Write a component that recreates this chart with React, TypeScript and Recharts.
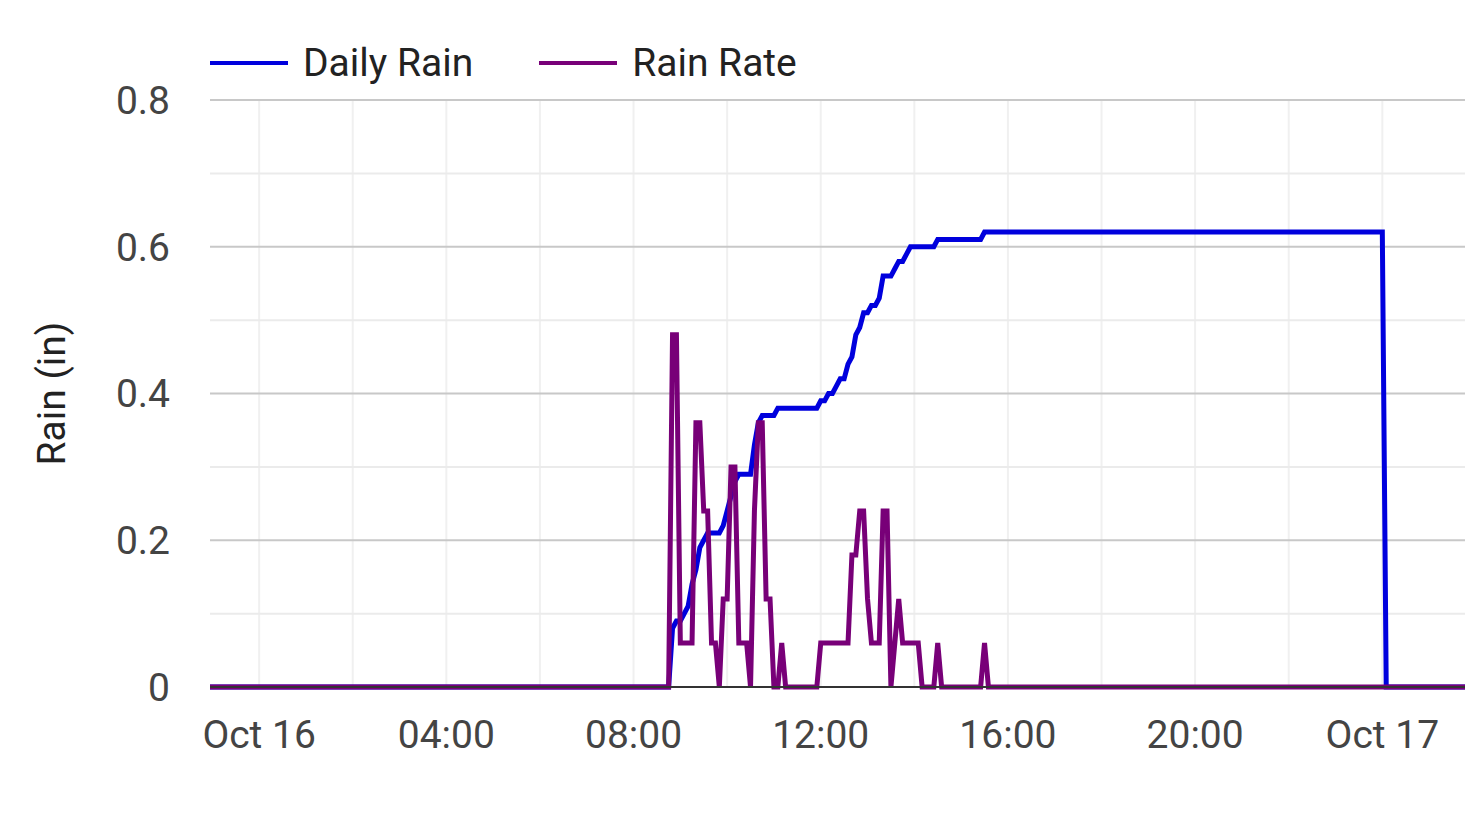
import { LineChart, Line, XAxis, YAxis, ReferenceLine, Label } from 'recharts'

// minutes from Oct 16 00:00
const times = [
  -63,
  520, 525, 530, 535, 540, 545, 550, 555, 560, 565,
  570, 575, 580, 585, 590, 595, 600, 605, 610, 615,
  620, 625, 630, 635, 640, 645, 650, 655, 660, 665,
  670, 675, 680, 685, 690, 695, 700, 705, 710, 715,
  720, 725, 730, 735, 740, 745, 750, 755, 760, 765,
  770, 775, 780, 785, 790, 795, 800, 805, 810, 815,
  820, 825, 830, 835, 840, 845, 850, 855, 860, 865,
  870, 875, 880, 885, 890, 895, 900, 905, 910, 915,
  920, 925, 930, 935, 940, 945,
  1440, 1445, 1546,
]

const dailyRain = [
  0,
  0, 0, 0.08, 0.09, 0.09, 0.1, 0.11, 0.14, 0.16, 0.19,
  0.2, 0.21, 0.21, 0.21, 0.21, 0.22, 0.24, 0.26, 0.28, 0.29,
  0.29, 0.29, 0.29, 0.33, 0.36, 0.37, 0.37, 0.37, 0.37, 0.38,
  0.38, 0.38, 0.38, 0.38, 0.38, 0.38, 0.38, 0.38, 0.38, 0.38,
  0.39, 0.39, 0.4, 0.4, 0.41, 0.42, 0.42, 0.44, 0.45, 0.48,
  0.49, 0.51, 0.51, 0.52, 0.52, 0.53, 0.56, 0.56, 0.56, 0.57,
  0.58, 0.58, 0.59, 0.6, 0.6, 0.6, 0.6, 0.6, 0.6, 0.6,
  0.61, 0.61, 0.61, 0.61, 0.61, 0.61, 0.61, 0.61, 0.61, 0.61,
  0.61, 0.61, 0.62, 0.62, 0.62, 0.62,
  0.62, 0, 0,
]

const rainRate = [
  0,
  0, 0, 0.48, 0.48, 0.06, 0.06, 0.06, 0.06, 0.36, 0.36,
  0.24, 0.24, 0.06, 0.06, 0, 0.12, 0.12, 0.3, 0.3, 0.06,
  0.06, 0.06, 0, 0.24, 0.36, 0.36, 0.12, 0.12, 0, 0,
  0.06, 0, 0, 0, 0, 0, 0, 0, 0, 0,
  0.06, 0.06, 0.06, 0.06, 0.06, 0.06, 0.06, 0.06, 0.18, 0.18,
  0.24, 0.24, 0.12, 0.06, 0.06, 0.06, 0.24, 0.24, 0, 0.06,
  0.12, 0.06, 0.06, 0.06, 0.06, 0.06, 0, 0, 0, 0,
  0.06, 0, 0, 0, 0, 0, 0, 0, 0, 0,
  0, 0, 0.06, 0, 0, 0,
  0, 0, 0,
]

const xTicks = [0, 240, 480, 720, 960, 1200, 1440]
const xTickLabels = ['Oct 16', '04:00', '08:00', '12:00', '16:00', '20:00', 'Oct 17']
const xGrid = [0, 120, 240, 360, 480, 600, 720, 840, 960, 1080, 1200, 1320, 1440]
const yTicks = [0, 0.2, 0.4, 0.6, 0.8]
const yMinor = [0.1, 0.3, 0.5, 0.7]

const series = [
  { key: 'daily', name: 'Daily Rain', color: '#0000dd', values: dailyRain },
  { key: 'rate', name: 'Rain Rate', color: '#780078', values: rainRate },
]

const FONT = 'Roboto, sans-serif'

export default function App() {
  const data = times.map((t, i) => ({ t, daily: dailyRain[i], rate: rainRate[i] }))

  return (
    <div style={{ position: 'absolute', left: 0, top: 0, width: 1465, height: 820, background: '#fff', fontFamily: FONT }}>
      <div style={{ position: 'absolute', left: 210, top: 40, display: 'flex', alignItems: 'center', height: 46 }}>
        {series.map((s, i) => (
          <div key={s.key} style={{ display: 'flex', alignItems: 'center', marginRight: i === 0 ? 66 : 0 }}>
            <div style={{ width: 78, height: 4, background: s.color }} />
            <span style={{ marginLeft: 15, fontSize: 39, color: '#222', lineHeight: '46px' }}>{s.name}</span>
          </div>
        ))}
      </div>
      <LineChart width={1465} height={820} data={data} margin={{ top: 100, right: 0, bottom: 73, left: 0 }}>
        {xGrid.map(v => (
          <ReferenceLine key={'x' + v} x={v} stroke="#f0f0f0" strokeWidth={2} />
        ))}
        {yMinor.map(v => (
          <ReferenceLine key={'ym' + v} y={v} stroke="#ebebeb" strokeWidth={2} />
        ))}
        {yTicks.filter(v => v > 0).map(v => (
          <ReferenceLine key={'y' + v} y={v} stroke="#c8c8c8" strokeWidth={2} />
        ))}
        <XAxis
          type="number"
          dataKey="t"
          domain={[-63, 1546]}
          ticks={xTicks}
          tickFormatter={(v: number) => xTickLabels[xTicks.indexOf(v)] ?? ''}
          tick={{ fontSize: 39, fill: '#444', fontFamily: FONT }}
          tickLine={false}
          tickMargin={27}
          axisLine={{ stroke: '#333', strokeWidth: 2 }}
          height={60}
          allowDataOverflow
        />
        <YAxis
          type="number"
          domain={[0, 0.8]}
          ticks={yTicks}
          tickFormatter={(v: number) => (v === 0 ? '0' : v.toFixed(1))}
          tick={{ fontSize: 39, fill: '#444', fontFamily: FONT }}
          tickLine={false}
          tickMargin={34}
          axisLine={false}
          width={210}
        >
          <Label
            content={(props: any) => {
              const vb = props.viewBox || {}
              const cx = (vb.x ?? 0) + 52
              const cy = (vb.y ?? 0) + (vb.height ?? 0) / 2
              return (
                <text
                  x={cx}
                  y={cy}
                  transform={`rotate(-90 ${cx} ${cy})`}
                  textAnchor="middle"
                  dominantBaseline="central"
                  fontSize={39}
                  fill="#222"
                  fontFamily={FONT}
                >
                  Rain (in)
                </text>
              )
            }}
          />
        </YAxis>
        {series.map(s => (
          <Line
            key={s.key}
            dataKey={s.key}
            name={s.name}
            type="linear"
            stroke={s.color}
            strokeWidth={5}
            dot={false}
            activeDot={false}
            isAnimationActive={false}
          />
        ))}
      </LineChart>
    </div>
  )
}
